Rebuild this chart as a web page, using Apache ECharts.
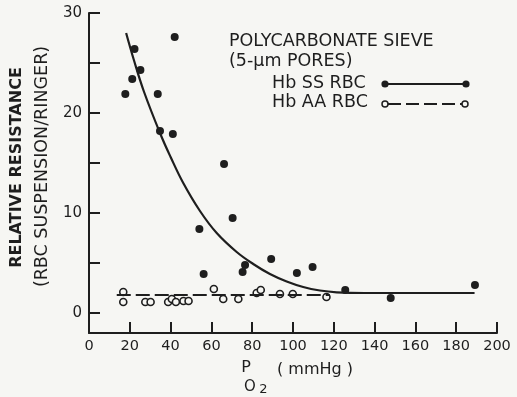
<!DOCTYPE html>
<html>
<head>
<meta charset="utf-8">
<script src="https://cdn.jsdelivr.net/npm/echarts@6/dist/echarts.min.js"></script>
<style>
  html, body { margin: 0; padding: 0; background: #f6f6f3; }
  #chart { width: 517px; height: 397px; }
</style>
</head>
<body>
<div id="chart"></div>
<script>
// ---- data ----
const xTicks = [0, 20, 40, 60, 80, 100, 120, 140, 160, 180, 200];
const yTickValues = [0, 5, 10, 15, 20, 25, 30];
const yLabelValues = [0, 10, 20, 30];

// Hb SS RBC (filled dots): [PO2, relative resistance]
const ssPoints = [
  [17.8, 21.9], [21.2, 23.4], [22.3, 26.4], [25.2, 24.3], [33.7, 21.9],
  [34.8, 18.2], [41.1, 17.9], [42.0, 27.6], [54.1, 8.4], [56.2, 3.9],
  [66.2, 14.9], [70.4, 9.5], [75.3, 4.1], [76.5, 4.8], [89.3, 5.4],
  [101.9, 4.0], [109.6, 4.6], [125.6, 2.3], [147.9, 1.5], [189.2, 2.8]
];
// Hb AA RBC (open circles)
const aaPoints = [
  [16.8, 2.1], [16.8, 1.1], [27.6, 1.1], [30.2, 1.1], [38.8, 1.1],
  [40.6, 1.4], [42.6, 1.1], [46.3, 1.2], [48.8, 1.2], [61.2, 2.4],
  [65.8, 1.4], [73.2, 1.4], [82.2, 2.0], [84.2, 2.3], [93.6, 1.9],
  [99.9, 1.9], [116.4, 1.6]
];
// fitted curve for Hb SS
const ssCurve = [
  [18.2, 28.0], [22.0, 25.3], [27.0, 22.1], [35.0, 17.9], [40.0, 15.6],
  [46.2, 13.0], [54.4, 10.2], [62.6, 8.0], [72.4, 6.1], [80.5, 4.9],
  [88.7, 3.9], [96.9, 3.15], [105.0, 2.6], [113.2, 2.25], [121.4, 2.07],
  [135.0, 2.0], [189.0, 2.0]
];
// dashed line for Hb AA
const aaLine = [[13.6, 1.8], [118.0, 1.8]];

const ink = '#1e1e1e';
const bg = '#f6f6f3';
const font = 'DejaVu Sans';

const chart = echarts.init(document.getElementById('chart'), null, { renderer: 'canvas' });

const option = {
  backgroundColor: bg,
  animation: false,
  grid: { left: 89, right: 20, top: 13, bottom: 64, containLabel: false, outerBoundsMode: 'none' },
  xAxis: {
    type: 'value',
    min: 0, max: 200, interval: 20,
    axisLine: { onZero: false, lineStyle: { color: ink, width: 2 } },
    axisTick: { inside: true, length: 11, lineStyle: { color: ink, width: 2 } },
    axisLabel: {
      color: ink, fontFamily: font, fontSize: 14.5, margin: 6,
      customValues: xTicks
    },
    splitLine: { show: false }
  },
  yAxis: {
    type: 'value',
    min: -2, max: 30,
    axisLine: { onZero: false, lineStyle: { color: ink, width: 2 } },
    axisTick: { inside: true, length: 11, lineStyle: { color: ink, width: 2 }, customValues: yTickValues },
    axisLabel: {
      color: ink, fontFamily: font, fontSize: 15, margin: 7,
      customValues: yLabelValues
    },
    splitLine: { show: false }
  },
  series: [
    {
      name: 'Hb SS curve', type: 'line', data: ssCurve,
      smooth: 0.4, showSymbol: false, silent: true,
      lineStyle: { color: ink, width: 2.2 }
    },
    {
      name: 'Hb AA line', type: 'line', data: aaLine,
      showSymbol: false, silent: true,
      lineStyle: { color: ink, width: 1.8, type: [14, 5] }
    },
    {
      name: 'Hb SS RBC', type: 'scatter', data: ssPoints,
      symbol: 'circle', symbolSize: 8,
      itemStyle: { color: ink, opacity: 1 }
    },
    {
      name: 'Hb AA RBC', type: 'scatter', data: aaPoints,
      symbol: 'circle', symbolSize: 7,
      itemStyle: { color: bg, borderColor: ink, borderWidth: 1.6, opacity: 1 }
    }
  ],
  graphic: [
    // y-axis title
    { type: 'text', x: 17, y: 167.5, rotation: Math.PI / 2,
      style: { text: 'RELATIVE RESISTANCE', fill: ink, font: 'bold 16px "DejaVu Sans"', align: 'center', verticalAlign: 'middle' } },
    { type: 'text', x: 42, y: 166.5, rotation: Math.PI / 2,
      style: { text: '(RBC SUSPENSION/RINGER)', fill: ink, font: '17.5px "DejaVu Sans"', align: 'center', verticalAlign: 'middle' } },
    // x-axis title
    { type: 'text', x: 246, y: 368,
      style: { text: 'P', fill: ink, font: '16px "DejaVu Sans"', align: 'center', verticalAlign: 'middle' } },
    { type: 'text', x: 250, y: 387,
      style: { text: 'O', fill: ink, font: '15px "DejaVu Sans"', align: 'center', verticalAlign: 'middle' } },
    { type: 'text', x: 263.5, y: 390,
      style: { text: '2', fill: ink, font: '13px "DejaVu Sans"', align: 'center', verticalAlign: 'middle' } },
    { type: 'text', x: 277, y: 370,
      style: { text: '( mmHg )', fill: ink, font: '16px "DejaVu Sans"', align: 'left', verticalAlign: 'middle' } },
    // legend block
    { type: 'text', x: 229, y: 41.7,
      style: { text: 'POLYCARBONATE SIEVE', fill: ink, font: '17.5px "DejaVu Sans"', align: 'left', verticalAlign: 'middle' } },
    { type: 'text', x: 229, y: 61.5,
      style: { text: '(5-\u03BCm PORES)', fill: ink, font: '17.5px "DejaVu Sans"', align: 'left', verticalAlign: 'middle' } },
    { type: 'text', x: 272, y: 83.5,
      style: { text: 'Hb SS RBC', fill: ink, font: '17.5px "DejaVu Sans"', align: 'left', verticalAlign: 'middle' } },
    { type: 'text', x: 272, y: 102.5,
      style: { text: 'Hb AA RBC', fill: ink, font: '17.5px "DejaVu Sans"', align: 'left', verticalAlign: 'middle' } },
    { type: 'line', shape: { x1: 385, y1: 84, x2: 466, y2: 84 }, style: { stroke: ink, lineWidth: 2 } },
    { type: 'circle', shape: { cx: 385, cy: 84, r: 3.6 }, style: { fill: ink } },
    { type: 'circle', shape: { cx: 466, cy: 84, r: 3.6 }, style: { fill: ink } },
    { type: 'line', shape: { x1: 388, y1: 104, x2: 462, y2: 104 }, style: { stroke: ink, lineWidth: 1.8, lineDash: [13, 5] } },
    { type: 'circle', shape: { cx: 385, cy: 104, r: 3 }, style: { fill: bg, stroke: ink, lineWidth: 1.5 } },
    { type: 'circle', shape: { cx: 465, cy: 104, r: 3 }, style: { fill: bg, stroke: ink, lineWidth: 1.5 } }
  ]
};

chart.setOption(option);
</script>
</body>
</html>
